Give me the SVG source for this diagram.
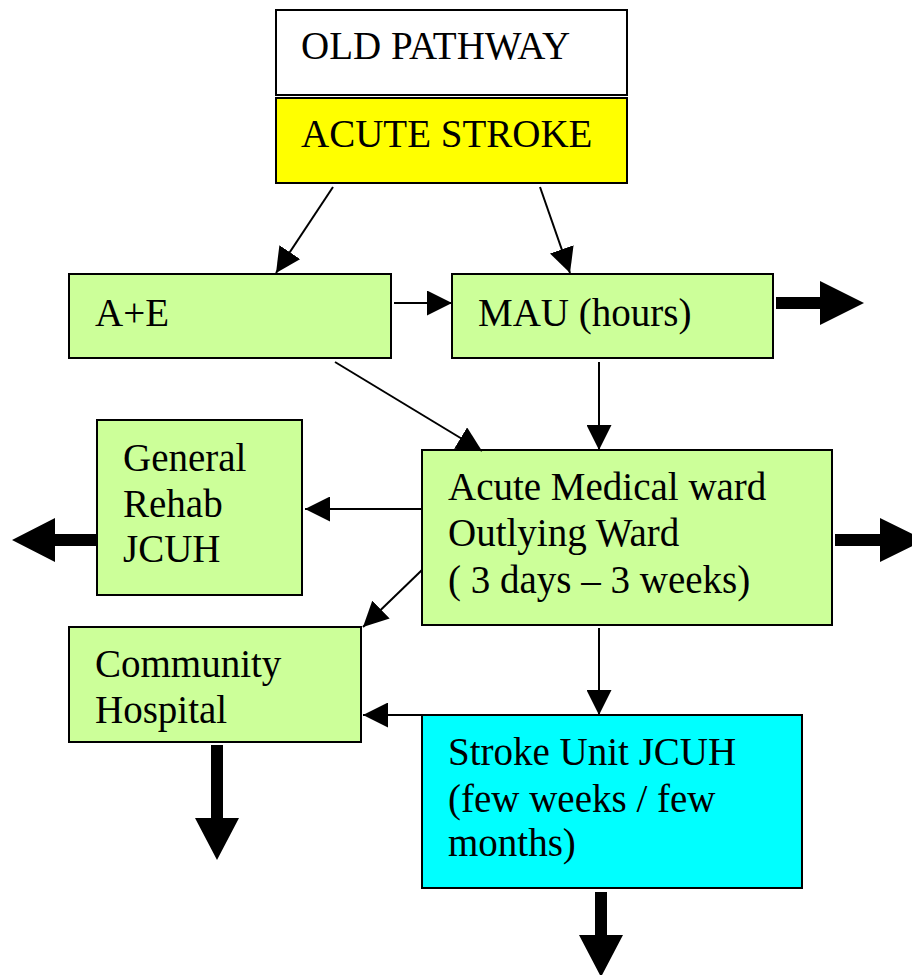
<svg xmlns="http://www.w3.org/2000/svg" width="912" height="975" viewBox="0 0 912 975">
<style>
.box{stroke:#000;stroke-width:2}
.g{fill:#CCFF99}
.t{font-family:"Liberation Serif","Times New Roman",serif;font-size:39px;fill:#000}
.c{stroke:#000;stroke-width:2;fill:none}
.thick{fill:#000}
</style>
<defs>
<marker id="ahb" viewBox="0 0 25 25" refX="25" refY="12.5" markerWidth="25" markerHeight="25" markerUnits="userSpaceOnUse" orient="auto">
<path d="M0,0 L25,12.5 L0,25 Z" fill="#000"/>
</marker>
</defs>
<rect width="912" height="975" fill="#fff"/>
<g id="old-pathway"><rect class="box" x="276" y="10" width="351" height="85" fill="#fff"/><text class="t" x="301" y="59">OLD PATHWAY</text></g>
<g id="acute-stroke"><rect class="box" x="276" y="98" width="351" height="85" fill="#FFFF00"/><text class="t" x="301" y="147">ACUTE STROKE</text></g>
<g id="ae"><rect class="box g" x="69" y="274" width="322" height="84"/><text class="t" x="95" y="326">A+E</text></g>
<g id="mau"><rect class="box g" x="452" y="274" width="321" height="84"/><text class="t" x="478" y="326">MAU (hours)</text></g>
<g id="acute-medical"><rect class="box g" x="422" y="450" width="410" height="175"/><text class="t" x="448" y="500">Acute Medical ward</text><text class="t" x="448" y="546">Outlying Ward</text><text class="t" x="448" y="593">( 3 days – 3 weeks)</text></g>
<g id="general-rehab"><rect class="box g" x="97" y="420" width="205" height="175"/><text class="t" x="123" y="471">General</text><text class="t" x="123" y="517">Rehab</text><text class="t" x="123" y="562">JCUH</text></g>
<g id="community"><rect class="box g" x="69" y="627" width="292" height="115"/><text class="t" x="95" y="677">Community</text><text class="t" x="95" y="723">Hospital</text></g>
<g id="stroke-unit"><rect class="box" x="422" y="715" width="380" height="173" fill="#00FFFF"/><text class="t" x="448" y="765">Stroke Unit JCUH</text><text class="t" x="448" y="812">(few weeks / few</text><text class="t" x="448" y="856">months)</text></g>
<g id="connectors">
<line class="c" x1="333" y1="187" x2="276" y2="273" marker-end="url(#ahb)"/>
<line class="c" x1="540" y1="187" x2="570" y2="273" marker-end="url(#ahb)"/>
<line class="c" x1="394" y1="303" x2="452" y2="303" marker-end="url(#ahb)"/>
<line class="c" x1="335" y1="362" x2="482" y2="451" marker-end="url(#ahb)"/>
<line class="c" x1="599" y1="362" x2="599" y2="450" marker-end="url(#ahb)"/>
<line class="c" x1="422" y1="509" x2="305" y2="509" marker-end="url(#ahb)"/>
<line class="c" x1="422" y1="570" x2="363" y2="627" marker-end="url(#ahb)"/>
<line class="c" x1="599" y1="628" x2="599" y2="715" marker-end="url(#ahb)"/>
<line class="c" x1="422" y1="715" x2="363" y2="715" marker-end="url(#ahb)"/>
<polygon class="thick" points="776,297 820,297 820,281 864,303 820,325 820,309 776,309"/>
<polygon class="thick" points="97,534 55,534 55,518 12,540 55,562 55,546 97,546"/>
<polygon class="thick" points="835,534 880,534 880,518 925,540 880,562 880,546 835,546"/>
<polygon class="thick" points="211,745 223,745 223,818 239,818 217,860 195,818 211,818"/>
<polygon class="thick" points="595,892 607,892 607,935 623,935 601,977 579,935 595,935"/>
</g>
</svg>
